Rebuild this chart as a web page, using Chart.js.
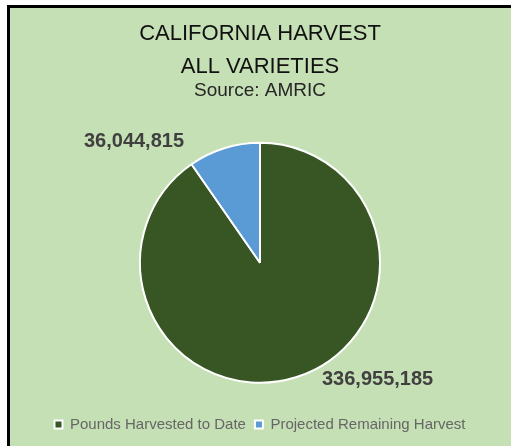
<!DOCTYPE html>
<html>
<head>
<meta charset="utf-8">
<script src="https://cdn.jsdelivr.net/npm/chart.js@4.4.1/dist/chart.umd.min.js"></script>
<style>
    body { margin: 0; background: #ffffff; width: 511px; height: 446px; overflow: hidden; position: relative; }
    #frame {
        position: absolute; left: 7px; top: 5px; width: 504px; height: 441px;
        border-left: 3px solid #000; border-top: 3px solid #000;
        background: #c5e0b4; box-sizing: border-box;
    }
    #harvestChart { position: absolute; left: 0; top: 0; }
</style>
</head>
<body>
<div id="frame"></div>
<canvas id="harvestChart" width="511" height="446"></canvas>
<script>
// Datos del gráfico
const categories = ['Pounds Harvested to Date', 'Projected Remaining Harvest'];
const pounds = [336955185, 36044815];
const sliceColors = ['#375623', '#5b9bd5'];
const titleLines = ['CALIFORNIA HARVEST', 'ALL VARIETIES'];
const subtitleText = 'Source: AMRIC';

// Posición de las etiquetas (en múltiplos del radio, desde el centro)
const labelAnchors = [
    { dx: 0.98, dy: 0.97 },
    { dx: -1.05, dy: -1.01 }
];

const valueLabels = {
    id: 'valueLabels',
    afterDatasetsDraw(chart) {
        const ctx = chart.ctx;
        const arcs = chart.getDatasetMeta(0).data;
        ctx.save();
        ctx.font = 'bold 20px "Liberation Sans", Arial, sans-serif';
        ctx.fillStyle = '#404040';
        ctx.textAlign = 'center';
        ctx.textBaseline = 'middle';
        arcs.forEach((arc, i) => {
            const r = arc.outerRadius;
            const a = labelAnchors[i];
            ctx.fillText(pounds[i].toLocaleString('en-US'), arc.x + a.dx * r, arc.y + a.dy * r);
        });
        ctx.restore();
    }
};

document.addEventListener('DOMContentLoaded', () => {
    const ctx = document.getElementById('harvestChart').getContext('2d');
    new Chart(ctx, {
        type: 'pie',
        data: {
            labels: categories,
            datasets: [{
                data: pounds,
                backgroundColor: sliceColors,
                borderColor: '#ffffff',
                borderWidth: 2
            }]
        },
        options: {
            responsive: false,
            devicePixelRatio: 1,
            animation: false,
            layout: { padding: { left: 9, right: 0, top: 0, bottom: 4 } },
            plugins: {
                title: {
                    display: true,
                    text: titleLines,
                    color: '#111111',
                    font: { family: '"Liberation Sans", Arial, sans-serif', size: 22, weight: 'normal', lineHeight: 33 / 22 },
                    padding: { top: 17, bottom: 0 }
                },
                subtitle: {
                    display: true,
                    text: subtitleText,
                    color: '#262626',
                    font: { family: '"Liberation Sans", Arial, sans-serif', size: 19, weight: 'normal' },
                    padding: { top: -4, bottom: 40 }
                },
                legend: {
                    position: 'bottom',
                    title: {
                        display: true,
                        text: ' ',
                        font: { size: 1 },
                        padding: { top: 0, bottom: 23 }
                    },
                    labels: {
                        color: '#1a1a1a',
                        font: { family: '"Liberation Sans", Arial, sans-serif', size: 15 },
                        boxWidth: 8,
                        boxHeight: 8,
                        padding: 9,
                        generateLabels(chart) {
                            return categories.map((c, i) => ({
                                text: c,
                                fillStyle: sliceColors[i],
                                strokeStyle: '#ffffff',
                                lineWidth: 2,
                                index: i
                            }));
                        }
                    }
                },
                tooltip: { enabled: false }
            }
        },
        plugins: [valueLabels]
    });
});
</script>
</body>
</html>
